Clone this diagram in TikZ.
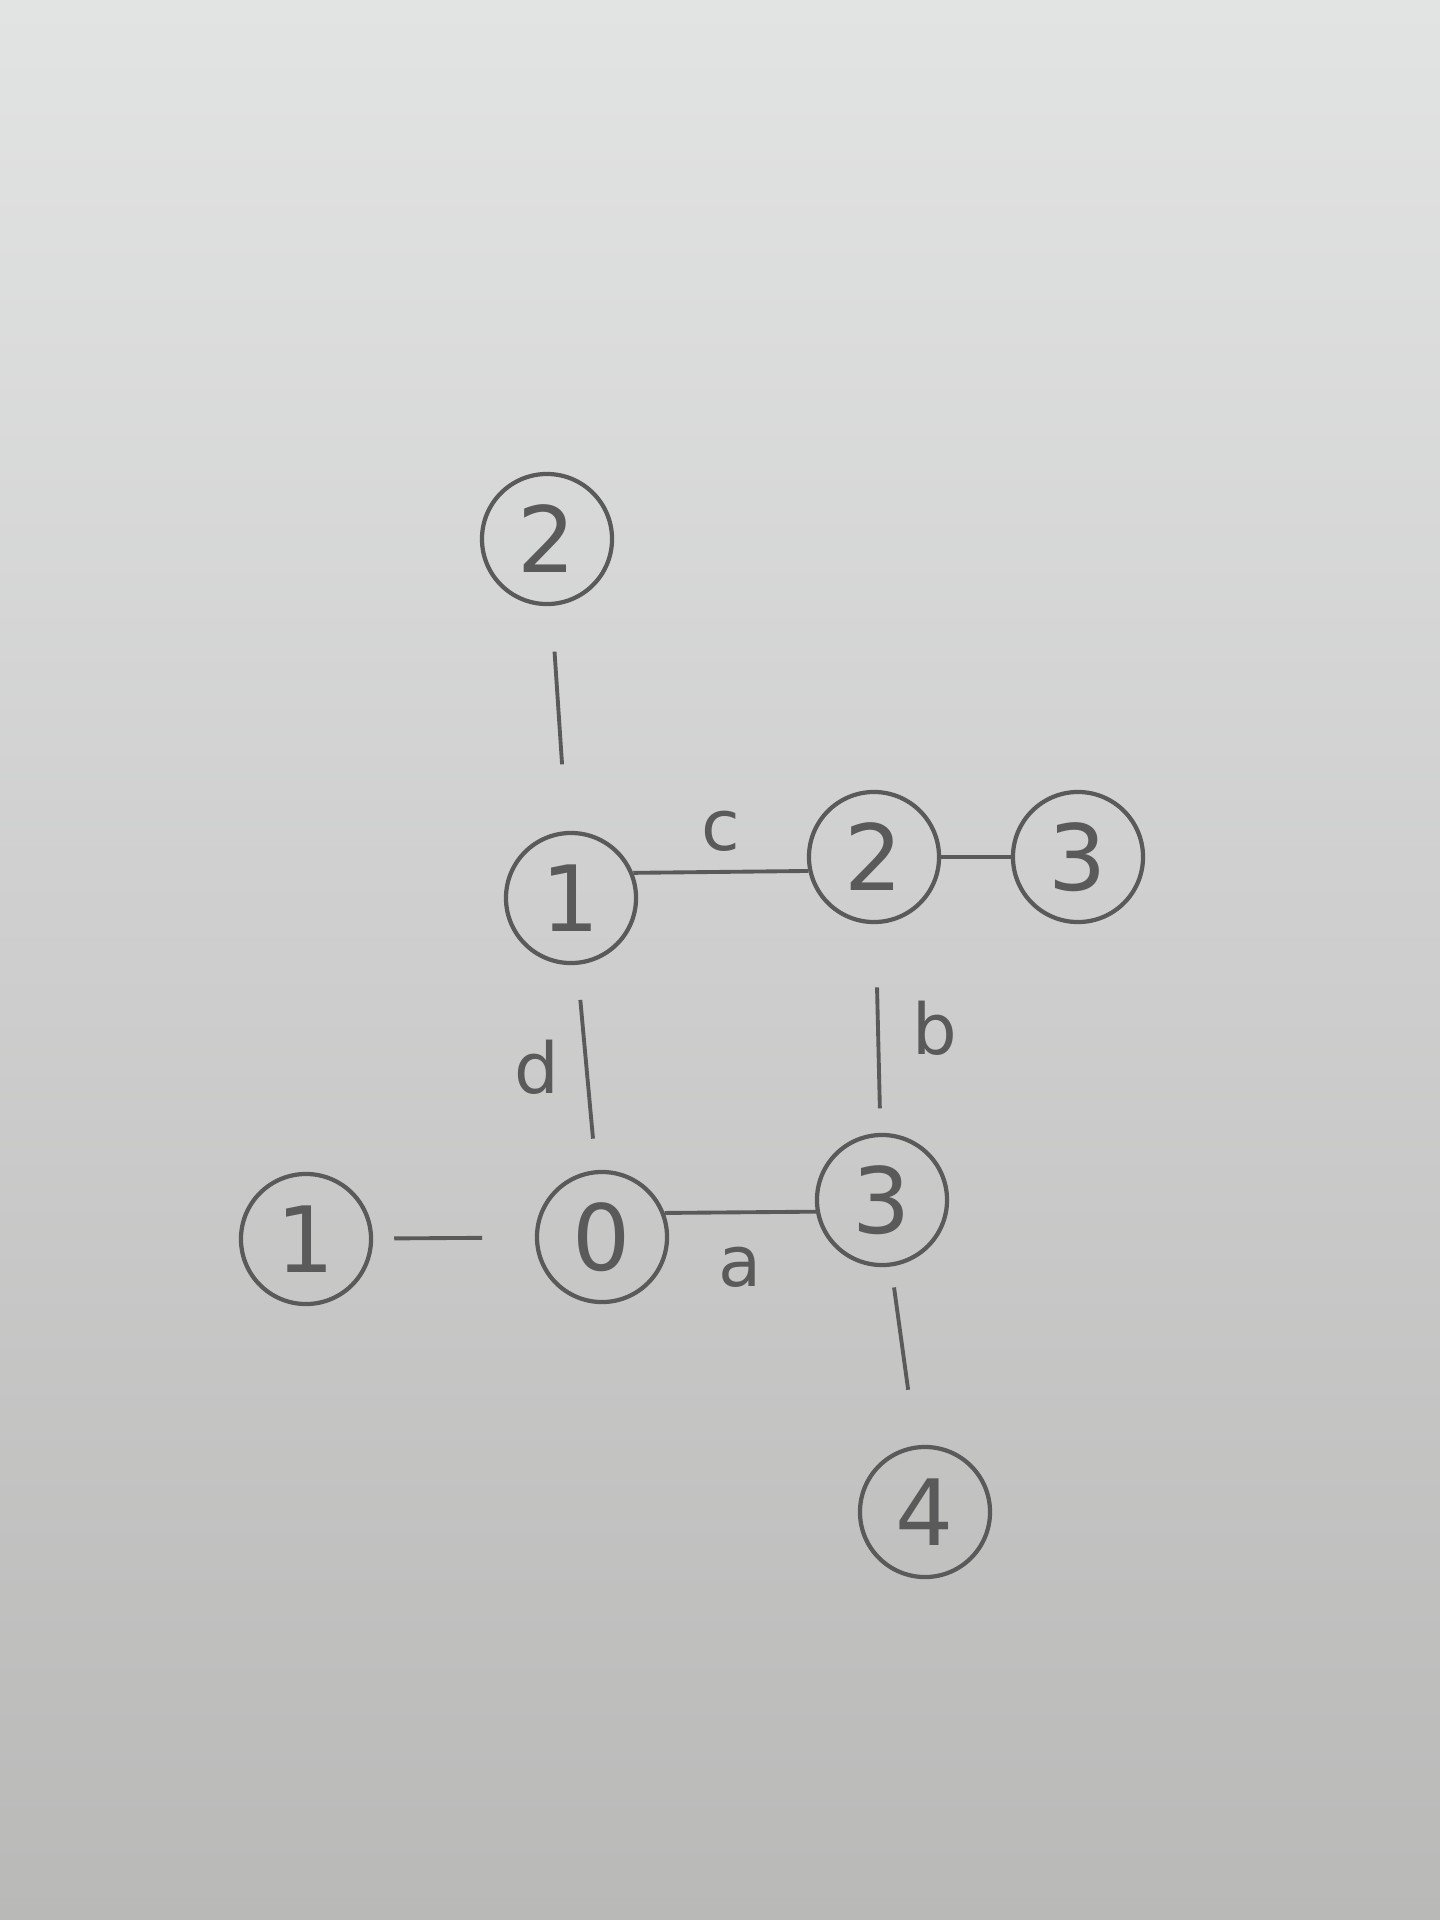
\documentclass[tikz,border=0pt]{standalone}
\usepackage{fontspec}
\setmainfont{DejaVu Sans}
\begin{document}
\begin{tikzpicture}[x=0.01cm,y=-0.01cm,
  vert/.style={circle,draw=pencil,line width=1.2pt,minimum size=1.3cm,inner sep=0pt,font=\fontsize{26}{30}\selectfont\color{pencil}},
  edge/.style={draw=pencil,line width=1.1pt},
  lab/.style={font=\fontsize{20}{24}\selectfont\color{pencil}}]
\definecolor{pencil}{HTML}{5A5A5A}
\definecolor{papertop}{HTML}{E2E3E3}
\definecolor{paperbot}{HTML}{B9B9B8}
\shade[top color=papertop,bottom color=paperbot] (0,0) rectangle (1440,1920);
\useasboundingbox (0,0) rectangle (1440,1920);
\node[vert] (t2) at (547,539) {2};
\node[vert] (n1) at (571,898) {1};
\node[vert] (n2) at (874,857) {2};
\node[vert] (r3) at (1078,857) {3};
\node[vert] (n0) at (602,1237) {0};
\node[vert] (l1) at (306,1239) {1};
\node[vert] (n3) at (882,1200) {3};
\node[vert] (n4) at (925,1512) {4};
\draw[edge,shorten <=13pt,shorten >=19pt] (t2) -- (n1);
\draw[edge] (n1.22) -- node[lab,above=2pt] {c} (n2.192);
\draw[edge] (n2) -- (r3);
\draw[edge,shorten <=10pt,shorten >=9pt] (n1) -- node[lab,left=4pt] {d} (n0);
\draw[edge,shorten <=18pt,shorten >=7pt] (n2) -- node[lab,right=6pt] {b} (n3);
\draw[edge] (n0.21) -- node[lab,below=6pt] {a} (n3.190);
\draw[edge,shorten <=6pt,shorten >=15pt] (l1) -- (n0);
\draw[edge,shorten <=6pt,shorten >=16pt] (n3) -- (n4);
\end{tikzpicture}
\end{document}
